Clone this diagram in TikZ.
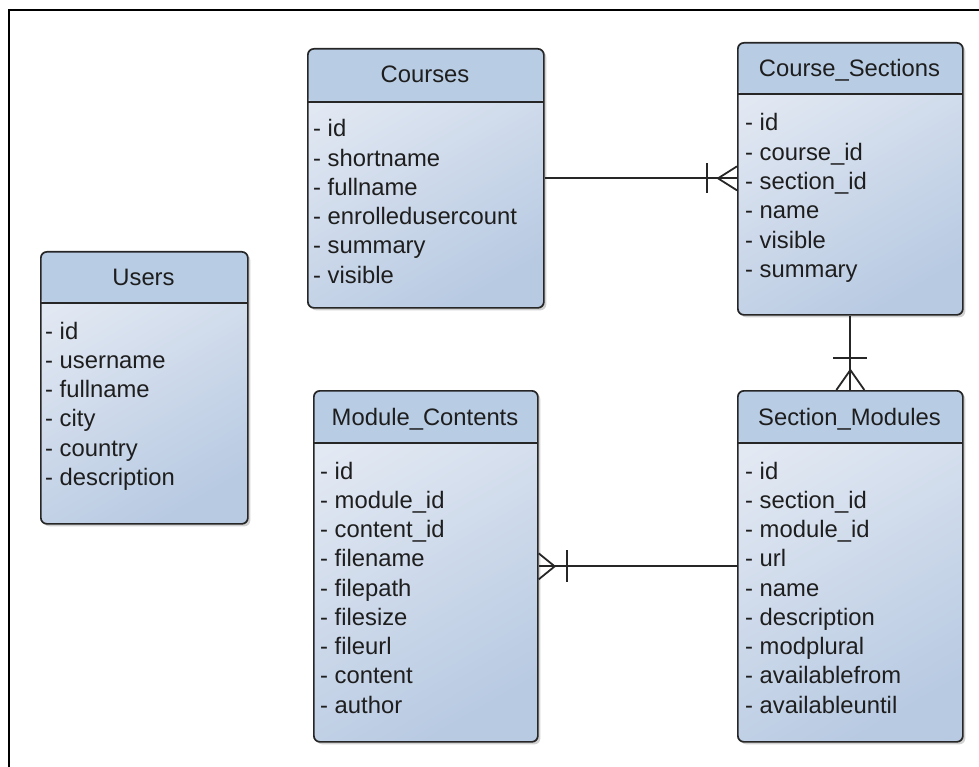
\documentclass[tikz,border=0pt]{standalone}
\usepackage{fontspec}
\setmainfont{Liberation Sans}
\usetikzlibrary{shadows,calc}

\definecolor{headblue}{HTML}{B8CCE4}
\definecolor{bodylight}{HTML}{E3E9F3}
\definecolor{bodydark}{HTML}{B8CAE2}
\definecolor{edge}{HTML}{262626}
\definecolor{ink}{HTML}{1E1E1E}

\tikzset{
  x=1pt, y=-1pt,
  entity/.style={
    draw=edge, line width=1.7pt, rounded corners=6pt, anchor=north west,
    inner sep=0pt, top color=bodylight, bottom color=bodydark, shading angle=30,
    drop shadow={shadow xshift=2.5pt, shadow yshift=-2.5pt, opacity=0.18, fill=black},
    path picture={
      \fill[headblue] (path picture bounding box.north west)
        rectangle ([yshift=-#1]path picture bounding box.north east);
      \draw[edge, line width=1.7pt] ([yshift=-#1]path picture bounding box.north west)
        -- ([yshift=-#1]path picture bounding box.north east);
    }
  },
  title/.style={anchor=base, inner sep=0pt, text=ink, font=\fontsize{23.8}{28}\selectfont},
  field/.style={anchor=base west, inner sep=0pt, text=ink, font=\fontsize{23.8}{28}\selectfont},
  link/.style={draw=edge, line width=1.8pt},
  frame/.style={draw=black, line width=2.4pt}
}

% one text line per attribute, 29.25pt apart
\newcommand\attrlist[4]{%
  \foreach \t [count=\i from 0] in {#4}
    \node[field] (#1-\i) at ({#2},{#3+\i*29.25}) {- \t};%
}

\begin{document}
\begin{tikzpicture}
\useasboundingbox (0,0) rectangle (979,767);

% page frame
\draw[frame] (9,767) -- (9,10) -- (979,10);

% entity boxes
\node[entity=53pt, minimum width=236pt, minimum height=259pt] (courses)  at (307,48)  {};
\node[entity=51pt, minimum width=225pt, minimum height=272pt] (sections) at (737,42)  {};
\node[entity=51pt, minimum width=207pt, minimum height=272pt] (users)    at (40,251)  {};
\node[entity=52pt, minimum width=224pt, minimum height=351pt] (contents) at (313,390) {};
\node[entity=52pt, minimum width=225pt, minimum height=351pt] (modules)  at (737,390) {};

% titles
\node[title] (courses-t)  at (425,83)  {Courses};
\node[title] (sections-t) at (849.5,77) {Course\_Sections};
\node[title] (users-t)    at (143.5,285) {Users};
\node[title] (contents-t) at (425,425) {Module\_Contents};
\node[title] (modules-t)  at (849.5,425) {Section\_Modules};

% attributes
\attrlist{courses}{313}{137}{id,shortname,fullname,enrolledusercount,summary,visible}
\attrlist{sections}{745}{131}{id,course\_id,section\_id,name,visible,summary}
\attrlist{users}{45}{339}{id,username,fullname,city,country,description}
\attrlist{contents}{320}{479}{id,module\_id,content\_id,filename,filepath,filesize,fileurl,content,author}
\attrlist{modules}{745}{479}{id,section\_id,module\_id,url,name,description,modplural,availablefrom,availableuntil}

% Courses 1 -- many Course_Sections
\coordinate (e1) at (sections.west |- courses.east);
\draw[link] (courses.east) -- (e1);
\draw[link] ($(e1)+(-30,-15)$) -- ($(e1)+(-30,15)$);
\draw[link] ($(e1)+(0,-12)$) -- ($(e1)+(-19,0)$) -- ($(e1)+(0,12)$);

% Course_Sections 1 -- many Section_Modules
\draw[link] (sections.south) -- (modules.north);
\draw[link] ($(modules.north)+(-17,-32)$) -- ($(modules.north)+(17,-32)$);
\draw[link] ($(modules.north)+(-14,0)$) -- ($(modules.north)+(0,-20)$) -- ($(modules.north)+(14,0)$);

% Section_Modules 1 -- many Module_Contents
\draw[link] (contents.east) -- (modules.west);
\draw[link] ($(contents.east)+(28,-16)$) -- ($(contents.east)+(28,16)$);
\draw[link] ($(contents.east)+(0,-13)$) -- ($(contents.east)+(16,0)$) -- ($(contents.east)+(0,13)$);
\end{tikzpicture}
\end{document}
